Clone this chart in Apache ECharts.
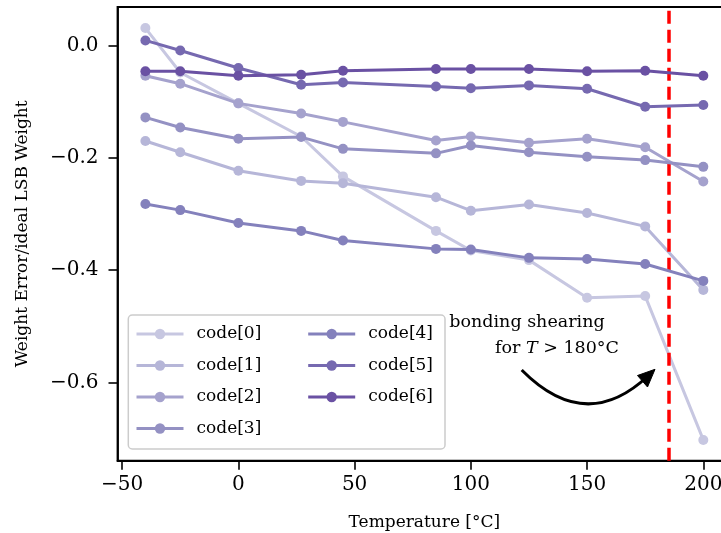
<!DOCTYPE html>
<html><head><meta charset="utf-8">
<script src="https://cdn.jsdelivr.net/npm/echarts@6/dist/echarts.min.js"></script>
<style>html,body{margin:0;padding:0;background:#fff}#c{width:721px;height:533px}</style>
</head><body><div id="c"></div>
<script>
const temps = [-40, -25, 0, 27, 45, 85, 100, 125, 150, 175, 200];
const code0 = [0.031, -0.048, -0.103, -0.162, -0.233, -0.330, -0.365, -0.382, -0.449, -0.446, -0.702];
const code1 = [-0.170, -0.190, -0.223, -0.241, -0.245, -0.270, -0.294, -0.283, -0.298, -0.322, -0.435];
const code2 = [-0.054, -0.068, -0.103, -0.121, -0.136, -0.169, -0.162, -0.173, -0.166, -0.181, -0.242];
const code3 = [-0.128, -0.146, -0.166, -0.163, -0.184, -0.192, -0.178, -0.190, -0.198, -0.204, -0.216];
const code4 = [-0.282, -0.293, -0.316, -0.330, -0.347, -0.362, -0.363, -0.378, -0.380, -0.389, -0.419];
const code5 = [0.009, -0.009, -0.040, -0.070, -0.066, -0.073, -0.076, -0.071, -0.077, -0.109, -0.106];
const code6 = [-0.046, -0.046, -0.054, -0.052, -0.045, -0.042, -0.042, -0.042, -0.046, -0.045, -0.054];
const seriesNames = ['code[0]', 'code[1]', 'code[2]', 'code[3]', 'code[4]', 'code[5]', 'code[6]'];
const seriesColors = ['#c7c7e1', '#b6b6d8', '#a5a2cd', '#9491c3', '#8481bc', '#7669b0', '#6a51a3'];
const xTicks = [-50, 0, 50, 100, 150, 200];
const yTicks = [-0.6, -0.4, -0.2, 0.0];
const shearTemp = 185;
const annotationLine1 = 'bonding shearing';
const annotationLine2 = '{n|for }{i|T}{n| > 180°C}';

const allData = [code0, code1, code2, code3, code4, code5, code6];
const FONT = '"DejaVu Serif", serif';
const minus = v => (v < 0 ? '\u2212' : '') + Math.abs(v);

const series = allData.map((vals, i) => {
  const s = {
    name: seriesNames[i], type: 'line',
    data: temps.map((t, k) => [t, vals[k]]),
    symbol: 'circle', symbolSize: 10,
    lineStyle: { width: 3, color: seriesColors[i] },
    itemStyle: { color: seriesColors[i] },
    emphasis: { disabled: true },
    z: 2 + i
  };
  if (i === allData.length - 1) {
    s.markLine = {
      silent: true, symbol: ['none', 'none'], label: { show: false },
      lineStyle: { color: '#ff0000', type: [13, 6], width: 3.5, opacity: 1 },
      emphasis: { disabled: true },
      data: [{ xAxis: shearTemp }]
    };
  }
  return s;
});

const legendCommon = {
  orient: 'vertical', padding: 0, itemWidth: 47, itemHeight: 13, itemGap: 9.5,
  selectedMode: false,
  lineStyle: { width: 3 },
  textStyle: { fontFamily: FONT, fontSize: 17, color: '#000', lineHeight: 22, padding: [0, 0, 0, 8] },
  top: 323
};

const chart = echarts.init(document.getElementById('c'), null, { renderer: 'canvas' });
chart.setOption({
  animation: false,
  backgroundColor: '#fff',
  grid: { left: 117.5, top: 7, width: 613.7, height: 453.7, outerBoundsMode: 'none', containLabel: false,
    show: true, borderColor: '#000', borderWidth: 1.8, backgroundColor: 'transparent' },
  xAxis: {
    type: 'value', min: -52, max: 212,
    name: 'Temperature [°C]', nameLocation: 'middle', nameGap: 53,
    nameTextStyle: { fontFamily: FONT, fontSize: 17, color: '#000' },
    axisLine: { show: true, onZero: false, lineStyle: { color: '#000', width: 1.8 } },
    axisTick: { show: true, length: 9, lineStyle: { color: '#000', width: 1.6 }, customValues: xTicks },
    axisLabel: { fontFamily: FONT, fontSize: 20, color: '#000', margin: 14, customValues: xTicks, formatter: v => minus(v) },
    splitLine: { show: false }
  },
  yAxis: {
    type: 'value', min: -0.739, max: 0.0685,
    name: 'Weight Error/ideal LSB Weight', nameLocation: 'middle', nameGap: 86, nameRotate: 90,
    nameTextStyle: { fontFamily: FONT, fontSize: 17, color: '#000' },
    axisLine: { show: true, onZero: false, lineStyle: { color: '#000', width: 1.8 } },
    axisTick: { show: true, length: 9, lineStyle: { color: '#000', width: 1.6 }, customValues: yTicks },
    axisLabel: { fontFamily: FONT, fontSize: 20, color: '#000', margin: 19, customValues: yTicks,
      formatter: v => (v < 0 ? '\u2212' : '') + Math.abs(v).toFixed(1) },
    splitLine: { show: false }
  },
  legend: [
    Object.assign({}, legendCommon, { left: 135, data: seriesNames.slice(0, 4) }),
    Object.assign({}, legendCommon, { left: 306.7, data: seriesNames.slice(4) })
  ],
  graphic: [
    { type: 'rect', z: 3, shape: { x: 128.3, y: 315, width: 316.7, height: 134, r: 4 },
      style: { fill: 'rgba(255,255,255,0.85)', stroke: '#cccccc', lineWidth: 1.5 } },
    { type: 'text', z: 10, style: { text: annotationLine1, x: 449.3, y: 322, font: '17.5px ' + FONT, fill: '#000', textVerticalAlign: 'middle' } },
    { type: 'text', z: 10, style: { text: annotationLine2, x: 495, y: 348, fill: '#000', textVerticalAlign: 'middle', font: '17.5px ' + FONT,
      rich: { n: { font: '17.5px ' + FONT, fill: '#000' }, i: { font: 'italic 17.5px ' + FONT, fill: '#000' } } } },
    { type: 'bezierCurve', z: 10, shape: { x1: 521.7, y1: 370, x2: 648, y2: 376, cpx1: 585.5, cpy1: 434.5 },
      style: { stroke: '#000', lineWidth: 3, fill: null } },
    { type: 'polygon', z: 10, shape: { points: [[655, 369.3], [647.5, 387], [637.5, 375.5]] }, style: { fill: '#000', stroke: '#000', lineWidth: 1, lineJoin: 'miter' } }
  ],
  series: series
});
</script></body></html>
